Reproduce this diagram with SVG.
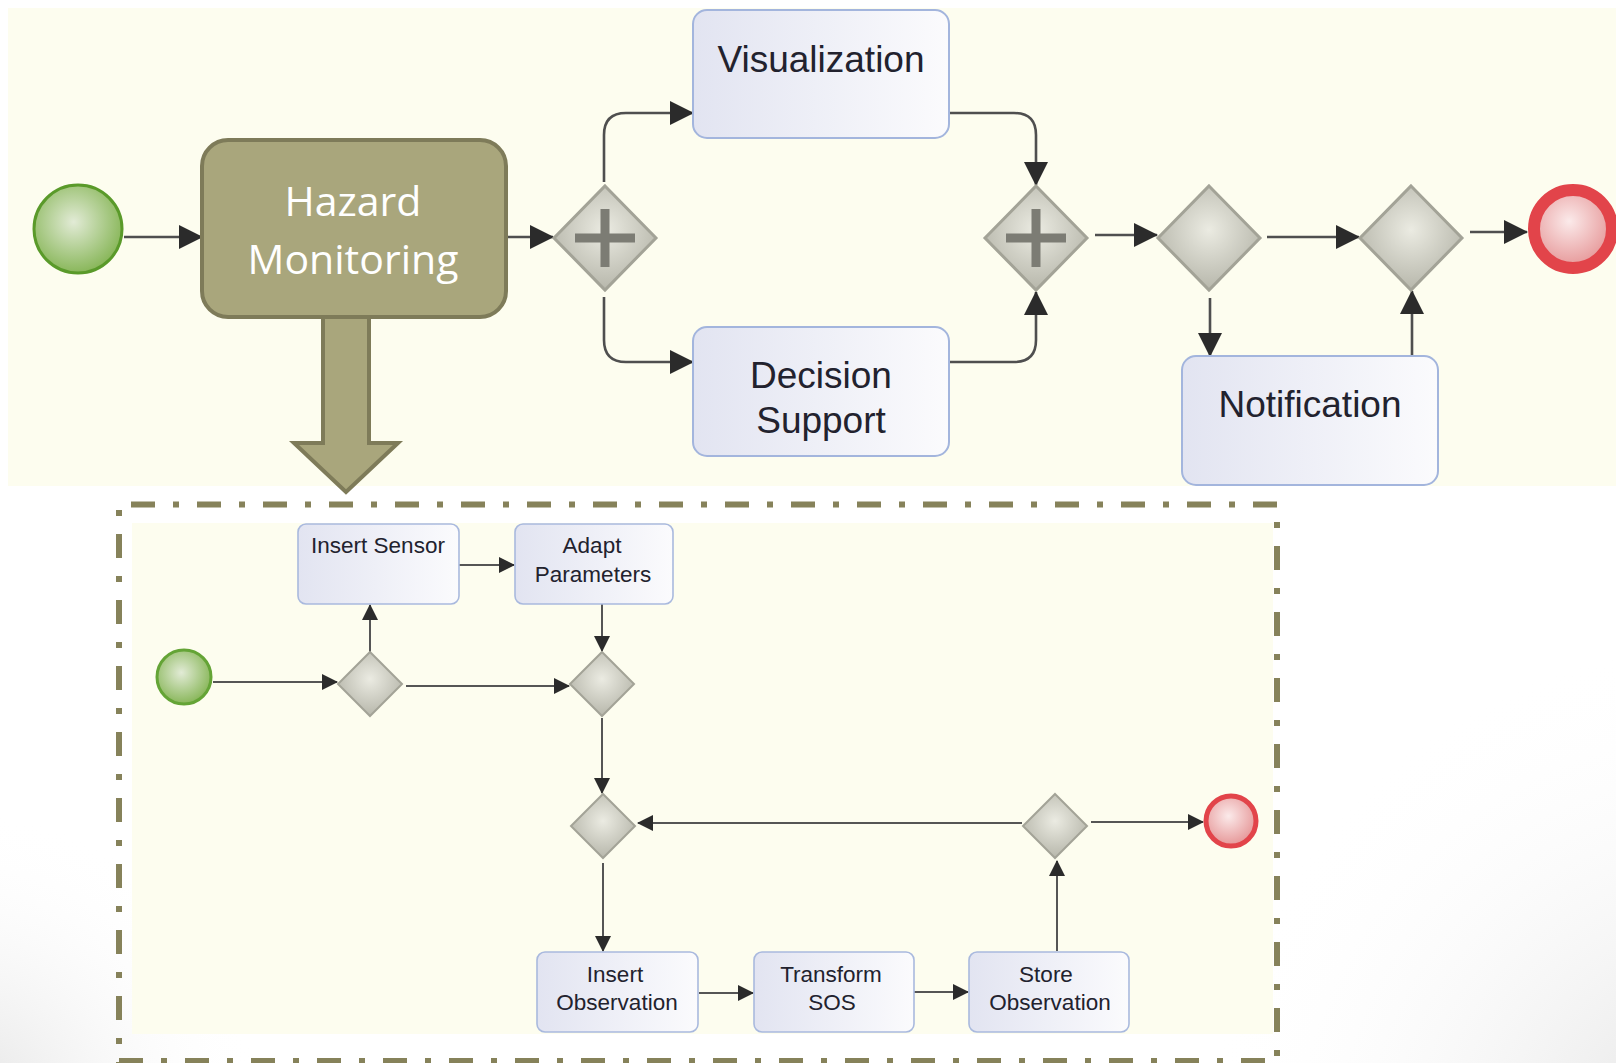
<svg xmlns="http://www.w3.org/2000/svg" width="1616" height="1063" viewBox="0 0 1616 1063">
<defs>
<radialGradient id="bgBL" cx="-40" cy="1110" r="300" gradientUnits="userSpaceOnUse">
<stop offset="0" stop-color="#e2e2e2"/><stop offset="1" stop-color="#ffffff" stop-opacity="0"/>
</radialGradient>
<radialGradient id="bgBR" cx="1720" cy="1160" r="520" gradientUnits="userSpaceOnUse">
<stop offset="0" stop-color="#e0e0e0"/><stop offset="1" stop-color="#ffffff" stop-opacity="0"/>
</radialGradient>
<linearGradient id="task" x1="0" y1="0" x2="1" y2="0">
<stop offset="0" stop-color="#e2e4f1"/><stop offset="1" stop-color="#fbfbfd"/>
</linearGradient>
<radialGradient id="gw" cx="0.5" cy="0.42" r="0.6">
<stop offset="0" stop-color="#ebebe2"/><stop offset="1" stop-color="#b5b5a9"/>
</radialGradient>
<radialGradient id="startG" cx="0.45" cy="0.42" r="0.6">
<stop offset="0" stop-color="#e2ebd6"/><stop offset="1" stop-color="#86b556"/>
</radialGradient>
<radialGradient id="endG" cx="0.45" cy="0.4" r="0.65">
<stop offset="0" stop-color="#fbeaea"/><stop offset="1" stop-color="#e48f90"/>
</radialGradient>
<marker id="ah" markerUnits="userSpaceOnUse" viewBox="0 0 24 24" markerWidth="24" markerHeight="24" refX="23" refY="12" orient="auto">
<path d="M0,0 L24,12 L0,24 z" fill="#2b2b2b"/>
</marker>
<marker id="ahs" markerUnits="userSpaceOnUse" viewBox="0 0 16 16" markerWidth="16" markerHeight="16" refX="15" refY="8" orient="auto">
<path d="M0,0 L16,8 L0,16 z" fill="#2b2b2b"/>
</marker>
</defs>
<style>
.task{fill:url(#task);stroke:#a3b5dd;stroke-width:2}
.taskS{fill:url(#task);stroke:#a9b9de;stroke-width:1.6}
.gw{fill:url(#gw);stroke:#a3a397;stroke-width:3}
.gwS{fill:url(#gw);stroke:#a3a397;stroke-width:2}
.plus{stroke:#7c7c74;stroke-width:9;fill:none}
.lbl{font-family:"Liberation Sans",Arial,sans-serif;font-size:37px;fill:#22222e;text-anchor:middle}
.lblS{font-family:"Liberation Sans",Arial,sans-serif;font-size:22.5px;fill:#22222e;text-anchor:middle}
.con{fill:none;stroke:#4f4f4f;stroke-width:2.6;marker-end:url(#ah)}
.conS{fill:none;stroke:#555;stroke-width:2;marker-end:url(#ahs)}
.dash{fill:none;stroke:#86825a;stroke-width:6;stroke-dasharray:24 18 6 18}
.dash2{fill:none;stroke:#86825a;stroke-width:6;stroke-dasharray:6 18 24 18}
</style>
<!-- slide background -->
<rect x="0" y="0" width="1616" height="1063" fill="#ffffff"/>
<rect x="0" y="700" width="400" height="363" fill="url(#bgBL)"/>
<rect x="1100" y="560" width="516" height="503" fill="url(#bgBR)"/>
<!-- panels -->
<rect id="topPanel" x="8" y="8" width="1608" height="478" fill="#fdfdef"/>
<rect id="bottomPanel" x="132" y="523" width="1141" height="511" fill="#fdfdef"/>
<g id="subprocessBorder">
<line class="dash" x1="131" y1="504.5" x2="1278" y2="504.5"/>
<line class="dash" x1="119" y1="1061" x2="1278" y2="1061"/>
<line class="dash2" x1="119" y1="510" x2="119" y2="1063"/>
<line class="dash2" x1="1277" y1="522" x2="1277" y2="1063"/>
</g>
<!-- expansion arrow -->
<g id="expandArrow">
<path d="M323,300 V443 H294 L346,492 L398,443 H369 V300" fill="#a9a67c" stroke="#7e7b59" stroke-width="4" stroke-linejoin="miter"/>
</g>
<!-- connectors -->
<g id="connectors">
<path class="con" d="M124,237 H202"/>
<path class="con" d="M506,237 H553"/>
<path class="con" d="M604,182 V135 Q604,113 626,113 H693"/>
<path class="con" d="M604,297 V340 Q604,362 626,362 H693"/>
<path class="con" d="M949,113 H1014 Q1036,113 1036,135 V185"/>
<path class="con" d="M949,362 H1014 Q1036,362 1036,340 V292"/>
<path class="con" d="M1095,235 H1157"/>
<path class="con" d="M1267,237 H1359"/>
<path class="con" d="M1470,232 H1527"/>
<path class="con" d="M1210,298 V356"/>
<path class="con" d="M1412,356 V291"/>
<path class="conS" d="M213,682 H337"/>
<path class="conS" d="M370,652 V605"/>
<path class="conS" d="M459,565 H514"/>
<path class="conS" d="M602,604 V651"/>
<path class="conS" d="M406,686 H569"/>
<path class="conS" d="M602,718 V793"/>
<path class="conS" d="M1022,823 H638"/>
<path class="conS" d="M1091,822 H1203"/>
<path class="conS" d="M603,863 V951"/>
<path class="conS" d="M699,993 H753"/>
<path class="conS" d="M914,992 H968"/>
<path class="conS" d="M1057,951 V861"/>
</g>
<!-- top level nodes -->
<g id="start"><circle cx="78" cy="229" r="44" fill="url(#startG)" stroke="#5a9a2a" stroke-width="3"/></g>
<g id="hazardMonitoring">
<rect x="202" y="140" width="304" height="177" rx="26" fill="#a9a67c" stroke="#7e7b59" stroke-width="4"/>
<text x="353" y="216" font-family="'Open Sans','Noto Sans',sans-serif" font-size="41" fill="#ffffff" text-anchor="middle">Hazard</text>
<text x="353" y="274" font-family="'Open Sans','Noto Sans',sans-serif" font-size="41" fill="#ffffff" text-anchor="middle">Monitoring</text>
</g>
<g id="split"><polygon class="gw" points="605,186 656,238 605,290 554,238"/><path class="plus" d="M575,238 H635 M605,209 V267"/></g>
<g id="visualization"><rect class="task" x="693" y="10" width="256" height="128" rx="14"/><text class="lbl" x="821" y="72">Visualization</text></g>
<g id="decisionSupport"><rect class="task" x="693" y="327" width="256" height="129" rx="14"/><text class="lbl" x="821" y="388">Decision</text><text class="lbl" x="821" y="433">Support</text></g>
<g id="join"><polygon class="gw" points="1036,186 1087,238 1036,290 985,238"/><path class="plus" d="M1006,238 H1066 M1036,209 V267"/></g>
<g id="gateway3"><polygon class="gw" points="1209,186 1260,238 1209,290 1158,238"/></g>
<g id="gateway4"><polygon class="gw" points="1411,186 1462,238 1411,290 1360,238"/></g>
<g id="notification"><rect class="task" x="1182" y="356" width="256" height="129" rx="14"/><text class="lbl" x="1310" y="417">Notification</text></g>
<g id="end"><circle cx="1573" cy="229" r="39" fill="url(#endG)" stroke="#e2444a" stroke-width="12"/></g>
<!-- sub-process nodes -->
<g id="subStart"><circle cx="184" cy="677" r="27" fill="url(#startG)" stroke="#64a436" stroke-width="3"/></g>
<g id="gwA"><polygon class="gwS" points="370,652 402,684 370,716 338,684"/></g>
<g id="insertSensor"><rect class="taskS" x="298" y="524" width="161" height="80" rx="8"/><text class="lblS" x="378" y="553">Insert Sensor</text></g>
<g id="adaptParameters"><rect class="taskS" x="515" y="524" width="158" height="80" rx="8"/><text class="lblS" x="592" y="553">Adapt</text><text class="lblS" x="593" y="582">Parameters</text></g>
<g id="gwB"><polygon class="gwS" points="602,652 634,684 602,716 570,684"/></g>
<g id="gwC"><polygon class="gwS" points="603,794 635,826 603,858 571,826"/></g>
<g id="gwD"><polygon class="gwS" points="1055,794 1087,826 1055,858 1023,826"/></g>
<g id="subEnd"><circle cx="1231" cy="821" r="25" fill="url(#endG)" stroke="#e2444a" stroke-width="5"/></g>
<g id="insertObservation"><rect class="taskS" x="537" y="952" width="161" height="80" rx="8"/><text class="lblS" x="615" y="982">Insert</text><text class="lblS" x="617" y="1010">Observation</text></g>
<g id="transformSOS"><rect class="taskS" x="754" y="952" width="160" height="80" rx="8"/><text class="lblS" x="831" y="982">Transform</text><text class="lblS" x="832" y="1010">SOS</text></g>
<g id="storeObservation"><rect class="taskS" x="969" y="952" width="160" height="80" rx="8"/><text class="lblS" x="1046" y="982">Store</text><text class="lblS" x="1050" y="1010">Observation</text></g>
</svg>
